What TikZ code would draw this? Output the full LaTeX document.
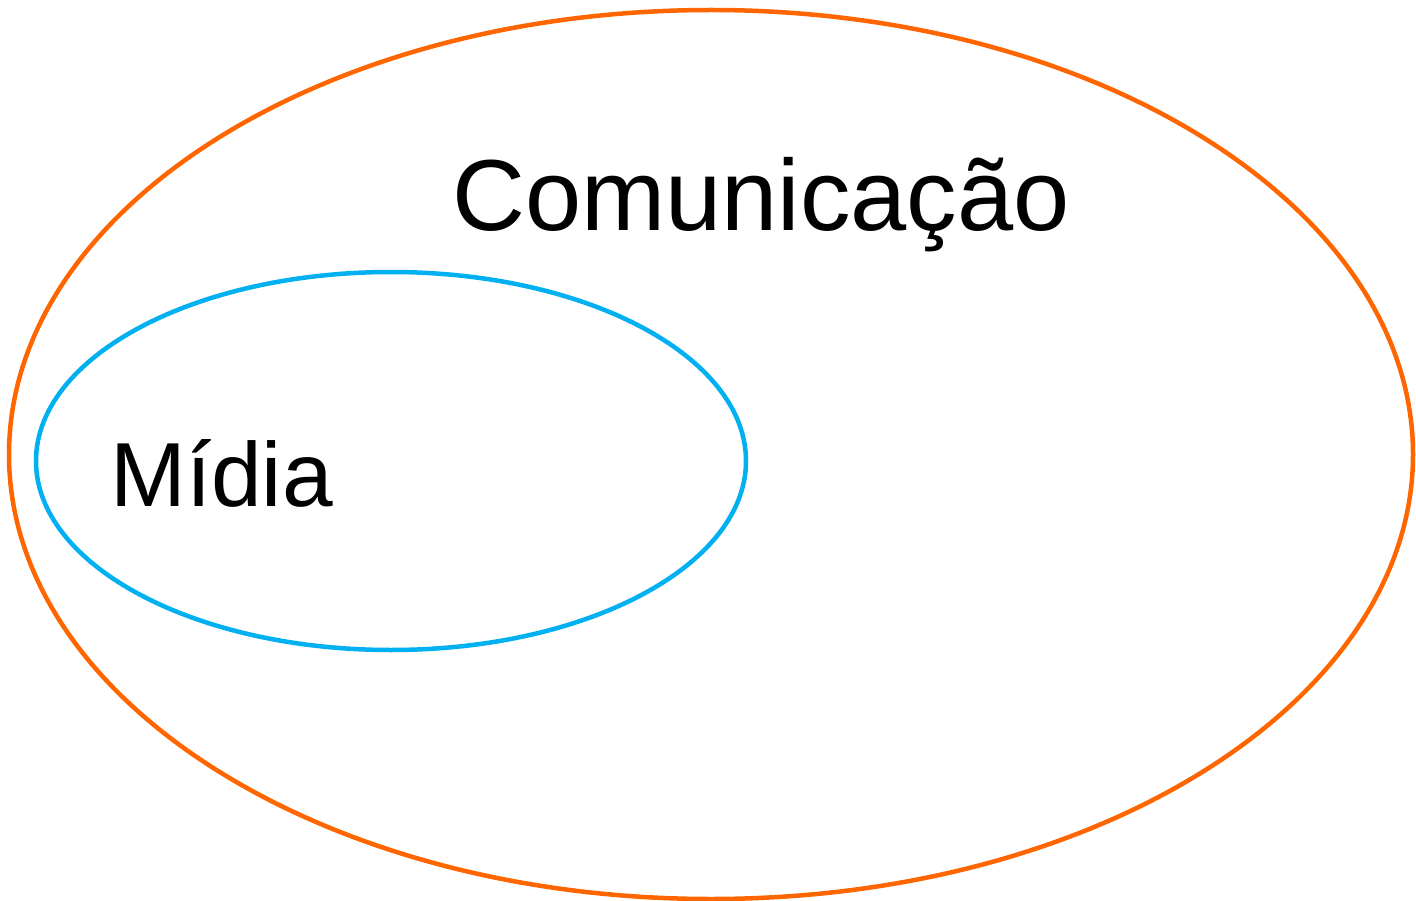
\documentclass[tikz,border=0pt]{standalone}
\usepackage{fontspec}
\setmainfont{Liberation Sans}
\begin{document}
\begin{tikzpicture}[x=1pt,y=-1pt,
  outer/.style={draw={rgb,255:red,255;green,102;blue,0},line width=4.5pt},
  inner/.style={draw={rgb,255:red,0;green,176;blue,240},line width=4.5pt},
  lbl/.style={inner sep=0pt,anchor=base west}]
\useasboundingbox (0,0) rectangle (1416,901);
\draw[outer] (711,454.5) ellipse [x radius=702, y radius=444.5];
\draw[inner] (391,461) ellipse [x radius=355, y radius=189];
\node[lbl,font=\fontsize{101}{108}\selectfont] (com) at (452,231) {Comunicação};
\node[lbl,font=\fontsize{91}{98}\selectfont] (mid) at (110,506) {Mídia};
\end{tikzpicture}
\end{document}
